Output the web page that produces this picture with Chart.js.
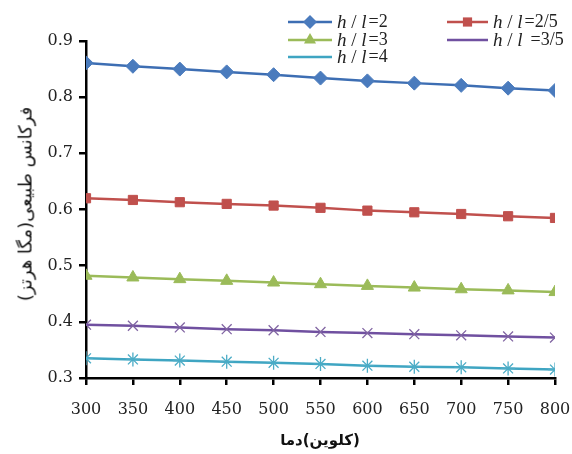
<!DOCTYPE html>
<html><head><meta charset="utf-8">
<script src="https://cdn.jsdelivr.net/npm/chart.js@4/dist/chart.umd.min.js"></script>
<style>
html,body{margin:0;padding:0;background:#fff}
#wrap{width:572px;height:454px;position:relative}
.t{position:absolute;font-family:"DejaVu Sans";color:#111;white-space:nowrap}
#yt{left:25px;top:204px;font-size:18px;direction:rtl;transform:translate(-50%,-50%) rotate(-90deg)}
#xt{left:320px;top:440px;font-size:15px;font-weight:bold;direction:ltr;transform:translate(-50%,-50%)}
#xt span{direction:rtl;unicode-bidi:isolate;display:inline-block}
</style>
</head><body><div id="wrap"><canvas id="c" width="572" height="454"></canvas>
<div class="t" id="yt"></div><div class="t" id="xt"><span id="xt1"></span><span id="xt2"></span></div></div>
<script>
const temperatures = [300, 350, 400, 450, 500, 550, 600, 650, 700, 750, 800];
const ratio2   = [0.861, 0.855, 0.850, 0.845, 0.840, 0.834, 0.829, 0.825, 0.821, 0.816, 0.812];
const ratio2_5 = [0.620, 0.617, 0.613, 0.610, 0.607, 0.603, 0.598, 0.595, 0.592, 0.588, 0.585];
const ratio3   = [0.482, 0.479, 0.476, 0.473, 0.470, 0.467, 0.464, 0.461, 0.458, 0.456, 0.453];
const ratio3_5 = [0.395, 0.393, 0.390, 0.387, 0.385, 0.382, 0.380, 0.378, 0.376, 0.374, 0.372];
const ratio4   = [0.335, 0.333, 0.331, 0.329, 0.327, 0.325, 0.322, 0.320, 0.319, 0.317, 0.315];
const seriesLabels = ['2', '2/5', '3', '3/5', '4'];
const yTitle = 'فرکانس طبیعی(مگا هرتز)';
const xTitleMain = 'دما';
const xTitleUnit = '(کلوین)';
document.getElementById('yt').textContent = yTitle;
document.getElementById('xt1').textContent = xTitleMain;
document.getElementById('xt2').textContent = xTitleUnit;

const styles = [
  {color:'#4a7bbd', line:'#3d6eb3', point:'rectRot', r:7},
  {color:'#c0504d', line:'#c0504d', point:'rect', r:6.5},
  {color:'#9bbb59', line:'#9bbb59', point:'triangle', r:7},
  {color:'#8064a2', line:'#7050a0', point:'crossRot', r:7},
  {color:'#4bacc6', line:'#3fa5c2', point:'star', r:7}
];
const values = [ratio2, ratio2_5, ratio3, ratio3_5, ratio4];

const datasets = values.map((vals, i) => ({
  label: 'h / l =' + seriesLabels[i],
  data: temperatures.map((t, k) => ({x: t, y: vals[k]})),
  borderColor: styles[i].line,
  backgroundColor: styles[i].color,
  pointBorderColor: styles[i].color,
  pointBackgroundColor: styles[i].color,
  pointStyle: styles[i].point,
  pointRadius: styles[i].r,
  pointBorderWidth: (styles[i].point === 'crossRot' || styles[i].point === 'star') ? 1.3 : 1,
  borderWidth: 2.5,
  tension: 0
}));

function drawMarker(ctx, st, x, y) {
  if (Chart.helpers && Chart.helpers.drawPoint) {
    ctx.save();
    ctx.fillStyle = st.color; ctx.strokeStyle = st.color;
    ctx.lineWidth = (st.point === 'crossRot' || st.point === 'star') ? 1.3 : 1;
    Chart.helpers.drawPoint(ctx, {pointStyle: st.point, radius: st.r, rotation: 0}, x, y);
    ctx.restore();
  }
}

const legendPlugin = {
  id: 'customLegend',
  afterDraw(chart) {
    const ctx = chart.ctx;
    const pos = [
      {x:288, y:22}, {x:447, y:22},
      {x:288, y:40}, {x:447, y:40},
      {x:288, y:57}
    ];
    chart.data.datasets.forEach((ds, i) => {
      const p = pos[i], st = styles[i];
      const len = i % 2 === 0 ? 44 : 41;
      ctx.save();
      ctx.strokeStyle = st.line; ctx.lineWidth = 2.5;
      ctx.beginPath(); ctx.moveTo(p.x, p.y); ctx.lineTo(p.x + len, p.y); ctx.stroke();
      drawMarker(ctx, st, p.x + len/2, p.y);
      let tx = p.x + len + 5;
      const by = p.y + 6;
      ctx.fillStyle = '#222';
      ctx.textBaseline = 'alphabetic';
      ctx.font = 'italic 19px "Liberation Serif"';
      ctx.fillText('h', tx, by); tx += ctx.measureText('h').width;
      ctx.font = '19px "Liberation Serif"';
      ctx.fillText(' / ', tx, by); tx += ctx.measureText(' / ').width;
      ctx.font = 'italic 19px "Liberation Serif"';
      ctx.fillText('l', tx, by); tx += ctx.measureText('l').width + (i === 3 ? 8 : 2);
      ctx.font = '18px "Liberation Serif"';
      ctx.fillText('=' + seriesLabels[i], tx, by - 1);
      ctx.restore();
    });
  }
};

new Chart(document.getElementById('c'), {
  type: 'line',
  data: { datasets },
  plugins: [legendPlugin],
  options: {
    responsive: false,
    animation: false,
    layout: { padding: { top: 41, right: 0, left: 8, bottom: 4 } },
    plugins: { legend: { display: false }, tooltip: { enabled: false } },
    scales: {
      x: {
        type: 'linear', min: 300, max: 800,
        border: { color: '#000', width: 2.5 },
        grid: { display: true, drawOnChartArea: false, drawTicks: true, tickLength: 7, color: '#000', lineWidth: 2.5 },
        ticks: { stepSize: 50, color: '#222', font: { family: 'DejaVu Serif', size: 16 }, padding: 15 },
        afterFit(s) { s.height = 72; s.paddingRight = 17; s.paddingLeft = 0; }
      },
      y: {
        min: 0.3, max: 0.9,
        border: { color: '#000', width: 2.5 },
        grid: { display: true, drawOnChartArea: false, drawTicks: true, tickLength: 7, color: '#000', lineWidth: 2.5 },
        ticks: { stepSize: 0.1, color: '#222', font: { family: 'DejaVu Serif', size: 16 }, padding: 6, callback: v => v.toFixed(1) },
        afterFit(s) { s.width = 78; }
      }
    }
  }
});
</script></body></html>
